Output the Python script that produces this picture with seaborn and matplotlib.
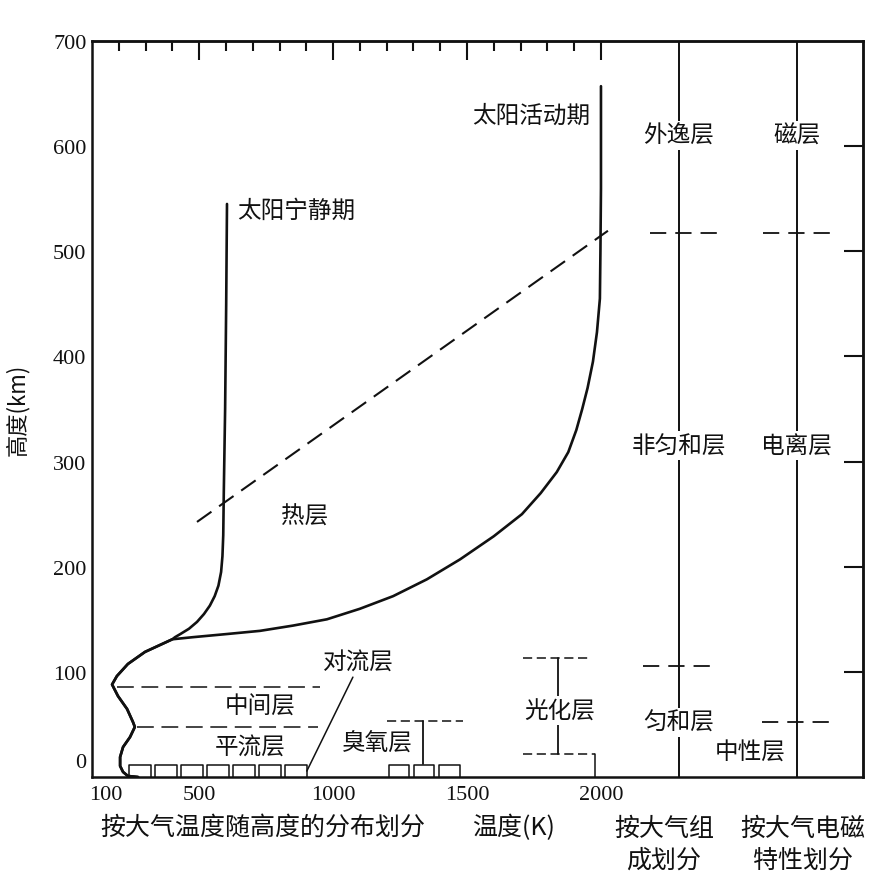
import matplotlib
matplotlib.use('agg')
import matplotlib.pyplot as plt
import matplotlib.transforms as mtransforms
import seaborn as sns
import pandas as pd

# temperature profile (K) vs altitude (km)
quiet_T = [604, 601, 597, 592, 590, 587, 582, 572, 558, 540, 518, 492, 462, 430, 410, 400]
quiet_km = [545, 450, 350, 270, 230, 210, 195, 182, 172, 163, 155, 147.5, 141, 136, 133, 131]

active_T = [2000, 2000, 1998, 1996, 1985, 1970, 1950, 1930, 1908, 1878, 1835, 1775, 1705,
            1600, 1474, 1350, 1224, 1100, 977, 850, 727, 604, 477, 400]
active_km = [657, 560, 500, 455, 423, 395, 370, 350, 330, 309, 290, 270, 250,
             229, 207, 188, 172, 160, 150, 144, 139, 136, 133, 131]

lower_T = [400, 298, 234, 193, 175, 197, 231, 253, 260, 242, 216, 205, 205, 216, 234, 272]
lower_km = [131, 119, 107.5, 96, 88, 77, 64.7, 52.3, 47.6, 38, 28.5, 19, 10.5, 4.8, 1, 0]

# boundary between solar quiet / active thermosphere
diag_T = [492, 2026]
diag_km = [242.6, 519.5]

mesopause_km, mesopause_T = 86, (193, 951)
stratopause_km, stratopause_T = 47.6, (268, 944)

tropo_km = 11
tropo_boxes = [(230, 327), (327, 424), (424, 521), (521, 618), (618, 715), (715, 812), (812, 909),
               (1200, 1293), (1293, 1386), (1386, 1480)]

ozone_T, ozone_km = 1335, (12, 53)
ozone_cap_T = (1201, 1485)
photo_T, photo_km = 1839, (22, 113)
photo_cap_T = (1709, 1959)
photo_base_T = (1709, 1978)

comp_T = 2290
em_T = 2730
comp_marks = [(517, 2183, 2433), (106, 2157, 2418)]
em_marks = [(517, 2605, 2881), (52, 2601, 2866)]

x_labels = [100, 500, 1000, 1500, 2000]
x_minor = list(range(200, 2001, 100))
y_ticks = list(range(0, 701, 100))
right_ticks = list(range(100, 601, 100))

sns.set_theme(style='white')
plt.rcParams['font.family'] = ['Noto Sans CJK SC', 'DejaVu Sans']
ink = '#111111'
cjk = ['Noto Sans CJK SC', 'DejaVu Sans']
serif = ['Liberation Serif', 'DejaVu Serif']

fig = plt.figure(figsize=(8.87, 8.95), dpi=100)
ax = fig.add_axes([0.1037, 0.1307, 0.8692, 0.8224])

quiet = pd.DataFrame({'T': quiet_T + lower_T[1:], 'km': quiet_km + lower_km[1:]})
active = pd.DataFrame({'T': active_T + lower_T[1:], 'km': active_km + lower_km[1:]})
sns.lineplot(data=quiet, x='T', y='km', sort=False, estimator=None, color=ink, lw=1.9, ax=ax)
sns.lineplot(data=active, x='T', y='km', sort=False, estimator=None, color=ink, lw=1.9, ax=ax)

ax.plot(diag_T, diag_km, color=ink, lw=1.5, linestyle=(0, (8.5, 4.5)))
ax.plot(mesopause_T, [mesopause_km] * 2, color=ink, lw=1.1, linestyle=(0, (11, 5)))
ax.plot(stratopause_T, [stratopause_km] * 2, color=ink, lw=1.1, linestyle=(0, (11, 5)))

for a, b in tropo_boxes:
    ax.plot([a + 8, a + 8, b - 8, b - 8], [0, tropo_km, tropo_km, 0], color=ink, lw=1.1)

# troposphere leader line
ax.plot([1074, 902], [95, 5.7], color=ink, lw=1.1)

# ozone layer bracket
ax.plot([ozone_T, ozone_T], ozone_km, color=ink, lw=1.3)
ax.plot(ozone_cap_T, [ozone_km[1]] * 2, color=ink, lw=1.1, linestyle=(0, (6, 3)))

# photochemical layer bracket
ax.plot([photo_T, photo_T], photo_km, color=ink, lw=1.3)
ax.plot(photo_cap_T, [photo_km[1]] * 2, color=ink, lw=1.1, linestyle=(0, (6, 3)))
ax.plot(photo_base_T, [photo_km[0]] * 2, color=ink, lw=1.1, linestyle=(0, (6, 3)))
ax.plot([photo_base_T[1]] * 2, [photo_km[0], 0], color=ink, lw=1.1)

# classification columns
ax.vlines([comp_T, em_T], 0, 700, color=ink, lw=1.4)
for km, a, b in comp_marks + em_marks:
    ax.plot([a, b], [km, km], color=ink, lw=1.3, linestyle=(0, (9, 5)))

ax.set_xlim(100, 2978)
ax.set_ylim(0, 700)

lab = dict(fontsize=17, color=ink, family=cjk, ha='center', va='center')
box = dict(facecolor='white', edgecolor='none', pad=2)
ax.text(1959, 629, '太阳活动期', **{**lab, 'ha': 'right'})
ax.text(641, 538.5, '太阳宁静期', **{**lab, 'ha': 'left'})
ax.text(895, 248, '热层', **lab)
ax.text(727, 67.6, '中间层', **lab)
ax.text(690, 28.5, '平流层', **lab)
ax.text(1093, 109, '对流层', **lab)
ax.text(1164, 33, '臭氧层', **lab)
ax.text(1847, 63, '光化层', bbox=box, **lab)
ax.text(comp_T, 610, '外逸层', bbox=box, **lab)
ax.text(em_T, 610, '磁层', bbox=box, **lab)
ax.text(comp_T, 315, '非匀和层', bbox=box, **lab)
ax.text(em_T, 315, '电离层', bbox=box, **lab)
ax.text(comp_T, 52, '匀和层', bbox=box, **lab)
ax.text(2556, 25, '中性层', **lab)

for s in ax.spines.values():
    s.set_visible(True)
    s.set_linewidth(1.8)
    s.set_color(ink)

ax.set_xticks(x_labels)
ax.set_xticks(x_minor, minor=True)
ax.set_yticks(y_ticks)
ax.set_xticklabels([str(v) for v in x_labels], family=serif, fontsize=16, color=ink)
ax.set_yticklabels([str(v) for v in y_ticks], family=serif, fontsize=16, color=ink)
ax.tick_params(axis='x', which='both', direction='in', length=5, width=1.2, color=ink, pad=6)
ax.tick_params(axis='y', which='major', direction='in', length=11, width=1.5, color=ink, pad=4)
ax.set_xlabel('')
ax.set_ylabel('高度(km)', fontsize=16, family=cjk, color=ink)
ax.yaxis.set_label_coords(-0.082, 0.5)

lbl0 = ax.yaxis.get_majorticklabels()[0]
lbl0.set_transform(lbl0.get_transform() + mtransforms.ScaledTranslation(0, 12 / 72, fig.dpi_scale_trans))
lbl1 = ax.xaxis.get_majorticklabels()[0]
lbl1.set_transform(lbl1.get_transform() + mtransforms.ScaledTranslation(10 / 72, 0, fig.dpi_scale_trans))

top = ax.secondary_xaxis('top')
top.set_xticks([500, 1000, 1500, 2000])
top.set_xticks(x_minor, minor=True)
top.tick_params(which='major', direction='in', length=14, width=1.5, color=ink, labeltop=False)
top.tick_params(which='minor', direction='in', length=7, width=1.5, color=ink)
top.set_xticklabels([])
top.spines['top'].set_linewidth(1.8)

right = ax.secondary_yaxis('right')
right.set_yticks(right_ticks)
right.tick_params(direction='in', length=14, width=1.5, color=ink, labelright=False)
right.set_yticklabels([])
right.spines['right'].set_linewidth(1.8)

btm = dict(fontsize=18, color=ink, family=cjk, ha='center', va='center')
fig.text(263 / 887, 1 - 828 / 895, '按大气温度随高度的分布划分', **btm)
fig.text(514 / 887, 1 - 828 / 895, '温度(K)', **btm)
fig.text(664 / 887, 1 - 845 / 895, '按大气组\n成划分', linespacing=1.3, **btm)
fig.text(803 / 887, 1 - 845 / 895, '按大气电磁\n特性划分', linespacing=1.3, **btm)

fig.savefig('out.png', dpi=100, facecolor='white')
